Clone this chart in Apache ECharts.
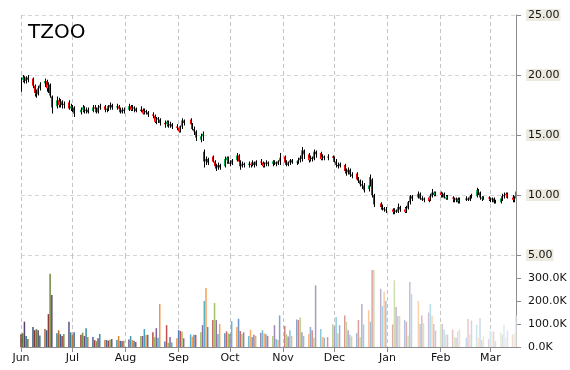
<!DOCTYPE html>
<html>
<head>
<meta charset="utf-8">
<script src="https://cdn.jsdelivr.net/npm/echarts@6/dist/echarts.min.js"></script>
<style>html,body{margin:0;padding:0;background:#fff}#c{width:570px;height:370px}</style>
</head>
<body>
<div id="c"></div>
<script>
// ---- data ----
const ticker = 'TZOO';
const startDate = '2015-06-01';
const endDate = '2016-03-16';
const holidays = ['2015-07-03','2015-09-07','2015-11-26','2015-12-25','2016-01-01','2016-01-18','2016-02-15'];
const monthNames = ['Jan','Feb','Mar','Apr','May','Jun','Jul','Aug','Sep','Oct','Nov','Dec'];
const priceTicks = [5, 10, 15, 20, 25];
const volumeTicks = [0, 100, 200, 300];
// [open, close, low, high] per trading day
const ohlc = [
[18.9,19.6,18.6,19.8],[19.6,19.8,19.4,20.0],[19.8,19.5,19.3,19.9],[19.5,19.8,19.3,19.9],[19.8,19.6,19.4,20.0],
[19.7,19.1,18.9,19.8],[19.1,18.5,18.2,19.2],[18.5,18.4,18.1,18.8],[18.4,18.9,18.3,19.1],[18.9,19.2,18.7,19.4],
[19.3,19.5,19.0,19.7],[19.5,18.9,18.6,19.6],[18.9,19.2,18.5,19.4],[19.2,18.3,18.1,19.3],[18.2,17.3,16.8,18.3],
[17.4,17.9,17.2,18.2],[17.9,17.5,17.3,18.1],[17.5,17.8,17.3,18.0],[17.8,17.5,17.2,17.9],[17.5,17.6,17.2,17.8],
[17.7,17.2,17.1,17.9],[17.2,17.4,17.0,17.6],[17.4,17.2,16.9,17.5],[17.3,16.8,16.5,17.4],
[16.9,17.1,16.7,17.3],[17.1,17.3,16.9,17.5],[17.3,17.0,16.8,17.4],[17.0,17.1,16.8,17.3],[17.1,16.9,16.8,17.3],
[17.0,17.3,16.9,17.5],[17.3,17.2,17.0,17.5],[17.2,16.9,16.8,17.3],[16.9,17.3,16.8,17.5],[17.3,17.4,17.1,17.6],
[17.4,17.1,16.9,17.5],[17.1,17.2,16.9,17.4],[17.2,17.4,17.0,17.5],[17.3,17.5,17.1,17.7],[17.5,17.3,17.1,17.6],
[17.3,17.4,17.1,17.6],[17.4,17.2,17.0,17.5],[17.2,16.9,16.8,17.3],[16.9,17.1,16.8,17.3],[17.1,17.0,16.8,17.3],
[17.1,17.4,17.0,17.6],[17.4,17.1,17.0,17.5],[17.1,17.3,17.0,17.5],[17.3,17.2,16.9,17.4],[17.2,17.0,16.9,17.3],
[17.1,17.1,16.9,17.4],[17.1,16.8,16.7,17.2],[16.8,17.0,16.7,17.2],[17.0,16.9,16.7,17.1],[16.9,16.7,16.5,17.0],
[16.7,16.6,16.4,16.9],[16.6,16.1,16.0,16.7],[16.1,16.4,15.9,16.5],[16.4,16.3,16.0,16.5],[16.3,16.0,15.8,16.4],
[16.0,15.9,15.6,16.2],[15.9,16.1,15.7,16.2],[16.1,15.8,15.6,16.2],[15.8,15.9,15.6,16.1],[15.9,15.7,15.5,16.0],
[15.7,15.6,15.4,15.9],[15.6,15.3,15.2,15.7],[15.3,15.7,15.2,15.8],[15.7,16.2,15.5,16.4],[16.2,16.0,15.8,16.3],
[16.3,15.9,15.7,16.4],[15.9,15.5,15.4,16.0],[15.5,15.3,15.0,15.7],[15.3,14.8,14.5,15.4],
[14.6,14.9,14.4,15.1],[14.9,15.1,14.5,15.3],[13.6,12.8,12.3,13.8],[12.8,13.0,12.5,13.2],[13.0,12.7,12.5,13.1],
[13.2,12.8,12.7,13.3],[12.8,12.4,12.2,12.9],[12.4,12.3,12.0,12.6],[12.3,12.5,12.1,12.7],[12.5,12.3,12.1,12.6],
[12.4,13.0,12.3,13.2],[12.9,13.1,12.6,13.2],[13.1,12.7,12.6,13.2],[12.7,12.6,12.4,12.9],[12.6,12.9,12.5,13.0],
[12.9,13.3,12.8,13.5],[13.3,12.8,12.6,13.4],[12.8,12.4,12.1,12.9],[12.4,12.6,12.3,12.8],[12.6,12.5,12.3,12.7],
[12.5,12.6,12.3,12.8],[12.6,12.5,12.3,12.7],[12.5,12.7,12.4,12.9],[12.7,12.5,12.3,12.8],[12.5,12.8,12.4,12.9],
[12.8,12.7,12.5,13.0],[12.7,12.4,12.3,12.8],[12.4,12.6,12.3,12.7],[12.6,12.7,12.4,12.9],[12.7,12.6,12.4,12.8],
[12.6,12.8,12.4,12.9],[12.8,12.7,12.5,12.9],[12.7,12.6,12.4,12.8],[12.6,12.8,12.5,12.9],[12.8,13.1,12.5,13.5],
[13.2,12.7,12.5,13.3],[12.7,12.5,12.4,12.9],[12.5,12.7,12.4,12.8],[12.7,12.9,12.5,13.0],[12.9,12.7,12.6,13.0],
[12.7,12.8,12.5,12.9],[12.8,12.9,12.6,13.1],[12.9,13.1,12.7,13.3],[13.0,13.7,12.8,14.0],[13.7,13.4,13.0,13.8],
[13.4,12.9,12.7,13.5],[12.9,13.1,12.8,13.3],[13.1,13.0,12.8,13.2],[13.0,13.6,12.9,13.8],[13.6,13.4,13.1,13.7],
[13.5,13.0,12.9,13.6],[13.0,13.2,12.9,13.4],[13.2,13.1,12.9,13.3],[13.1,13.2,12.9,13.4],
[13.2,13.1,12.8,13.3],[13.1,12.8,12.7,13.2],[12.8,12.5,12.3,13.0],[12.5,12.4,12.2,12.7],[12.4,12.6,12.3,12.7],
[12.5,12.0,11.8,12.6],[12.0,11.9,11.6,12.2],[11.9,12.1,11.7,12.3],[12.1,11.7,11.5,12.2],[11.7,11.6,11.4,11.9],
[11.8,11.3,11.2,11.9],[11.3,11.2,11.0,11.5],[11.2,10.9,10.7,11.3],[10.9,10.8,10.5,11.2],[10.8,10.4,10.2,11.0],
[10.5,10.8,10.3,11.0],[10.8,11.5,10.7,11.7],[11.3,10.0,9.8,11.4],[10.0,9.2,9.0,10.1],
[9.3,9.0,8.8,9.4],[9.0,8.9,8.7,9.2],[8.9,8.8,8.6,9.0],[8.8,8.7,8.5,9.0],
[8.8,8.6,8.4,8.9],[8.6,8.7,8.4,8.9],[8.7,8.6,8.5,8.8],[8.6,9.0,8.5,9.3],[9.0,8.8,8.6,9.1],
[8.8,8.6,8.5,9.0],[8.6,8.9,8.5,9.1],[8.9,9.4,8.8,9.5],[9.4,9.9,9.2,10.0],[9.9,9.7,9.5,10.0],
[9.8,10.1,9.7,10.3],[10.1,9.7,9.6,10.2],[9.7,9.7,9.5,9.9],[9.7,9.6,9.4,9.8],
[9.8,9.5,9.4,9.9],[9.6,9.9,9.5,10.1],[9.9,10.2,9.8,10.5],[10.2,10.0,9.9,10.3],[10.0,10.2,9.9,10.3],
[10.2,10.0,9.8,10.3],[10.0,10.1,9.8,10.2],[10.1,9.8,9.7,10.2],[9.8,9.7,9.6,10.0],[9.7,9.9,9.6,10.0],
[9.8,9.7,9.4,9.9],[9.7,9.6,9.4,9.8],[9.6,9.7,9.4,9.8],[9.7,9.4,9.3,9.8],[9.5,9.6,9.3,9.8],
[9.6,9.7,9.5,9.9],[9.7,9.6,9.5,9.8],[9.6,9.9,9.5,10.0],[9.9,9.9,9.7,10.1],
[9.9,10.4,9.8,10.6],[10.4,10.2,10.0,10.5],[10.2,9.8,9.6,10.3],[9.8,9.7,9.5,9.9],[9.7,9.8,9.6,9.9],
[9.8,9.7,9.5,9.9],[9.7,9.6,9.4,9.8],[9.6,9.7,9.4,9.8],[9.7,9.4,9.3,9.8],[9.4,9.4,9.3,9.6],
[9.4,9.7,9.3,9.9],[9.7,9.9,9.5,10.1],[9.9,10.0,9.7,10.2],[10.0,10.1,9.8,10.2],[10.1,9.8,9.7,10.2],
[9.8,9.6,9.4,10.0],[9.6,9.7,9.4,9.9],[9.7,10.3,9.6,10.4]
];
// volume in thousands per trading day
const volume = [
55,60,110,48,35,
87,73,78,73,50,
78,73,143,318,226,
60,73,56,48,56,
110,64,53,64,
53,62,48,82,43,
43,30,25,38,56,
30,30,28,31,35,
30,48,27,26,27,
33,48,30,27,22,
48,48,78,53,53,
64,43,82,40,187,
24,95,18,43,20,
38,73,70,66,38,
55,45,53,53,
64,95,200,256,87,
117,191,117,56,100,
60,68,60,56,112,
87,123,70,56,64,
48,75,43,53,48,
62,73,60,55,48,
48,95,35,30,137,
91,56,46,73,48,
120,117,128,64,48,
56,87,73,40,268,
78,43,40,43,
100,91,130,60,95,
137,110,73,53,46,
60,117,43,187,98,
160,110,335,335,
253,178,240,200,
98,290,174,135,135,
117,110,50,283,230,
200,100,137,104,
150,186,137,100,72,
100,100,76,54,54,
76,43,40,67,78,
40,122,54,115,
97,40,126,30,46,
35,70,67,67,25,
65,54,97,40,72,
54,60,137
];

// ---- build categories (calendar days) ----
function ymd(d){return d.toISOString().slice(0,10);}
const dates = [];
for (let d = new Date(startDate+'T00:00:00Z'); ymd(d) <= endDate; d.setUTCDate(d.getUTCDate()+1)) dates.push(ymd(d));
const palette = ['#C0504D','#9BBB59','#8064A2','#4BACC6','#F79646','#4F81BD'];
function shade(hex, amt){
  const n = parseInt(hex.slice(1),16);
  let c = [(n>>16)&255,(n>>8)&255,n&255];
  c = c.map(v => Math.round(amt < 0 ? v*(1+amt) : v + (255-v)*amt));
  return 'rgb('+c.join(',')+')';
}
const candleData = [], volData = [];
let k = 0;
const nTrade = ohlc.length;
dates.forEach((s, i) => {
  const wd = new Date(s+'T00:00:00Z').getUTCDay();
  if (wd === 0 || wd === 6 || holidays.includes(s) || k >= nTrade) {
    volData.push('-');
  } else {
    candleData.push([i].concat(ohlc[k]));
    const t = k/(nTrade-1);
    volData.push({value: volume[k], itemStyle:{color: shade(palette[k%palette.length], -0.35 + 1.15*t)}});
    k++;
  }
});
const isMonthStart = (i, v) => (v || dates[i]).slice(8) === '01';
const font = 'DejaVu Sans';

function renderCandle(params, api){
  const i = api.value(0), o = api.value(1), c = api.value(2), l = api.value(3), h = api.value(4);
  const pH = api.coord([i, h]), pL = api.coord([i, l]), pO = api.coord([i, o]), pC = api.coord([i, c]);
  const x = Math.round(pH[0]);
  const col = c > o ? '#00B050' : (c < o ? '#FF0000' : '#000000');
  const top = Math.min(pO[1], pC[1]);
  const bh = Math.max(1, Math.abs(pO[1] - pC[1]));
  return {type:'group', children:[
    {type:'rect', shape:{x: x - 1, y: top, width: 1, height: bh}, style:{fill: col}},
    {type:'rect', shape:{x: x, y: pH[1], width: 1, height: Math.max(1, pL[1] - pH[1])}, style:{fill: '#000'}}
  ]};
}

const chart = echarts.init(document.getElementById('c'), null, {renderer:'canvas'});
chart.setOption({
  animation: false,
  backgroundColor: '#fff',
  title: {text: ticker, left: 23, top: 18, textStyle: {fontFamily: font, fontSize: 20, fontWeight: 'normal', color: '#000'}},
  grid: [
    {left: 21, right: 54, top: 15, height: 240},
    {left: 21, right: 54, top: 255, height: 92}
  ],
  xAxis: [
    {type:'category', gridIndex:0, data: dates, boundaryGap:false,
     axisLine:{show:false}, axisTick:{show:false}, axisLabel:{show:false},
     splitLine:{show:true, interval: isMonthStart, lineStyle:{color:'#c4c4c4', type:[4,3]}}},
    {type:'category', gridIndex:1, data: dates, boundaryGap:false,
     axisLine:{show:true, lineStyle:{color:'#8c8c8c'}},
     axisTick:{show:true, interval: isMonthStart, length:5, lineStyle:{color:'#8c8c8c'}},
     axisLabel:{show:true, interval: isMonthStart, margin:6, fontFamily: font, fontSize: 11, color:'#111',
       formatter: v => monthNames[parseInt(v.slice(5,7),10)-1]},
     splitLine:{show:true, interval: isMonthStart, lineStyle:{color:'#c4c4c4', type:[4,3]}}}
  ],
  yAxis: [
    {type:'value', gridIndex:0, position:'right', min: priceTicks[0], max: priceTicks[priceTicks.length-1], interval: 5,
     axisLine:{show:true, lineStyle:{color:'#8c8c8c'}},
     axisTick:{show:true, length:5, lineStyle:{color:'#8c8c8c'}},
     axisLabel:{margin:10, fontFamily: font, fontSize: 11, color:'#111', backgroundColor:'#EDEBDF', padding:[1,1,0,2],
       formatter: v => v.toFixed(2)},
     splitLine:{show:true, lineStyle:{color:'#d6d6d6', type:[4,3]}}},
    {type:'value', gridIndex:1, position:'right', min: 0, max: 400, interval: 100,
     axisLine:{show:true, lineStyle:{color:'#8c8c8c'}},
     axisTick:{show:true, length:5, lineStyle:{color:'#8c8c8c'}},
     axisLabel:{margin:12, fontFamily: font, fontSize: 11, color:'#111',
       formatter: v => volumeTicks.includes(v) ? v.toFixed(1)+'K' : ''},
     splitLine:{show:false}}
  ],
  series: [
    {type:'custom', xAxisIndex:0, yAxisIndex:0, data: candleData, renderItem: renderCandle,
     encode:{x:0, y:[1,2,3,4]}, clip: true},
    {type:'bar', xAxisIndex:1, yAxisIndex:1, data: volData, barWidth: 1.5}
  ]
});
</script>
</body>
</html>
